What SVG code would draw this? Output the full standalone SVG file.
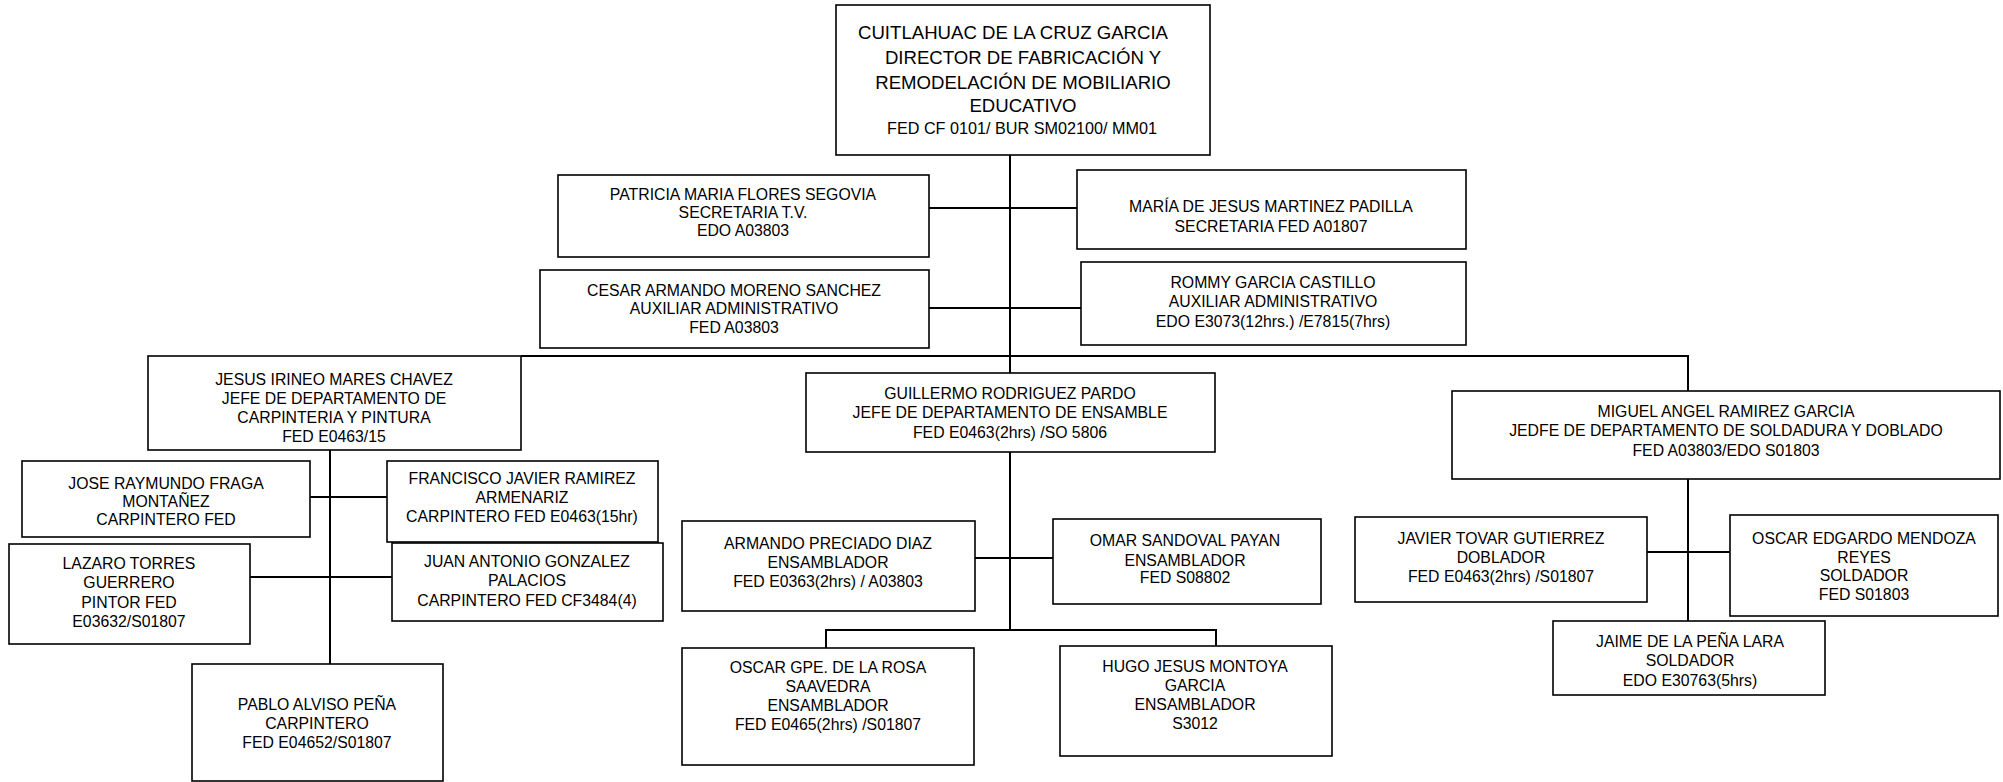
<svg xmlns="http://www.w3.org/2000/svg" width="2003" height="782" viewBox="0 0 2003 782">
<style>
rect{fill:#fff;stroke:#000;stroke-width:1.6}
text{font-family:"Liberation Sans",Arial,sans-serif;font-size:15.8px;fill:#000;text-anchor:middle}
.big{font-size:18.6px}
.mid{font-size:16.2px}
#connectors line,#connectors polyline{stroke:#000;stroke-width:2;fill:none}
</style>
<rect width="2003" height="782" style="fill:#fff;stroke:none"/>
<g id="connectors">
<line x1="1010" y1="155" x2="1010" y2="373"/>
<line x1="929" y1="208" x2="1077" y2="208"/>
<line x1="929" y1="308" x2="1081" y2="308"/>
<polyline points="521,356 1688,356 1688,391"/>
<line x1="330" y1="450" x2="330" y2="664"/>
<line x1="310" y1="497" x2="387" y2="497"/>
<line x1="250" y1="577" x2="392" y2="577"/>
<line x1="1010" y1="452" x2="1010" y2="630"/>
<line x1="975" y1="558" x2="1053" y2="558"/>
<polyline points="826,648 826,630 1216,630 1216,646"/>
<line x1="1688" y1="479" x2="1688" y2="621"/>
<line x1="1647" y1="552" x2="1730" y2="552"/>
</g>
<g id="n-director"><rect x="836" y="5" width="374" height="150"/>
<text class="big" x="1013" y="39">CUITLAHUAC DE LA CRUZ GARCIA</text>
<text class="big" x="1023" y="64">DIRECTOR DE FABRICACIÓN Y</text>
<text class="big" x="1023" y="89">REMODELACIÓN DE MOBILIARIO</text>
<text class="big" x="1023" y="112">EDUCATIVO</text>
<text class="mid" x="1022" y="134">FED CF 0101/ BUR SM02100/ MM01</text></g>
<g id="n-patricia"><rect x="558" y="175" width="371" height="82"/>
<text x="743" y="200">PATRICIA MARIA FLORES SEGOVIA</text>
<text x="743" y="218">SECRETARIA T.V.</text>
<text x="743" y="236">EDO A03803</text></g>
<g id="n-maria"><rect x="1077" y="170" width="389" height="79"/>
<text x="1271" y="212">MARÍA DE JESUS MARTINEZ PADILLA</text>
<text x="1271" y="232">SECRETARIA FED A01807</text></g>
<g id="n-cesar"><rect x="540" y="270" width="389" height="78"/>
<text x="734" y="296">CESAR ARMANDO MORENO SANCHEZ</text>
<text x="734" y="314">AUXILIAR ADMINISTRATIVO</text>
<text x="734" y="333">FED A03803</text></g>
<g id="n-rommy"><rect x="1081" y="262" width="385" height="83"/>
<text x="1273" y="288">ROMMY GARCIA CASTILLO</text>
<text x="1273" y="307">AUXILIAR ADMINISTRATIVO</text>
<text x="1273" y="327">EDO E3073(12hrs.) /E7815(7hrs)</text></g>
<g id="n-jesus"><rect x="148" y="356" width="373" height="94"/>
<text x="334" y="385">JESUS IRINEO MARES CHAVEZ</text>
<text x="334" y="404">JEFE DE DEPARTAMENTO DE</text>
<text x="334" y="423">CARPINTERIA Y PINTURA</text>
<text x="334" y="442">FED E0463/15</text></g>
<g id="n-guillermo"><rect x="806" y="373" width="409" height="79"/>
<text x="1010" y="399">GUILLERMO RODRIGUEZ PARDO</text>
<text x="1010" y="418">JEFE DE DEPARTAMENTO DE ENSAMBLE</text>
<text x="1010" y="438">FED E0463(2hrs) /SO 5806</text></g>
<g id="n-miguel"><rect x="1452" y="391" width="548" height="88"/>
<text x="1726" y="417">MIGUEL ANGEL RAMIREZ GARCIA</text>
<text x="1726" y="436">JEDFE DE DEPARTAMENTO DE SOLDADURA Y DOBLADO</text>
<text x="1726" y="456">FED A03803/EDO S01803</text></g>
<g id="n-jose"><rect x="22" y="461" width="288" height="76"/>
<text x="166" y="489">JOSE RAYMUNDO FRAGA</text>
<text x="166" y="507">MONTAÑEZ</text>
<text x="166" y="525">CARPINTERO FED</text></g>
<g id="n-francisco"><rect x="387" y="461" width="271" height="81"/>
<text x="522" y="484">FRANCISCO JAVIER RAMIREZ</text>
<text x="522" y="503">ARMENARIZ</text>
<text x="522" y="522">CARPINTERO FED E0463(15hr)</text></g>
<g id="n-lazaro"><rect x="9" y="544" width="241" height="100"/>
<text x="129" y="569">LAZARO TORRES</text>
<text x="129" y="588">GUERRERO</text>
<text x="129" y="608">PINTOR FED</text>
<text x="129" y="627">E03632/S01807</text></g>
<g id="n-juan"><rect x="392" y="543" width="271" height="78"/>
<text x="527" y="567">JUAN ANTONIO GONZALEZ</text>
<text x="527" y="586">PALACIOS</text>
<text x="527" y="606">CARPINTERO FED CF3484(4)</text></g>
<g id="n-pablo"><rect x="192" y="664" width="251" height="117"/>
<text x="317" y="710">PABLO ALVISO PEÑA</text>
<text x="317" y="729">CARPINTERO</text>
<text x="317" y="748">FED E04652/S01807</text></g>
<g id="n-armando"><rect x="682" y="521" width="293" height="90"/>
<text x="828" y="549">ARMANDO PRECIADO DIAZ</text>
<text x="828" y="568">ENSAMBLADOR</text>
<text x="828" y="587">FED E0363(2hrs) / A03803</text></g>
<g id="n-omar"><rect x="1053" y="519" width="268" height="85"/>
<text x="1185" y="546">OMAR SANDOVAL PAYAN</text>
<text x="1185" y="566">ENSAMBLADOR</text>
<text x="1185" y="583">FED S08802</text></g>
<g id="n-oscargpe"><rect x="682" y="648" width="292" height="117"/>
<text x="828" y="673">OSCAR GPE. DE LA ROSA</text>
<text x="828" y="692">SAAVEDRA</text>
<text x="828" y="711">ENSAMBLADOR</text>
<text x="828" y="730">FED E0465(2hrs) /S01807</text></g>
<g id="n-hugo"><rect x="1060" y="646" width="272" height="110"/>
<text x="1195" y="672">HUGO JESUS MONTOYA</text>
<text x="1195" y="691">GARCIA</text>
<text x="1195" y="710">ENSAMBLADOR</text>
<text x="1195" y="729">S3012</text></g>
<g id="n-javier"><rect x="1355" y="517" width="292" height="85"/>
<text x="1501" y="544">JAVIER TOVAR GUTIERREZ</text>
<text x="1501" y="563">DOBLADOR</text>
<text x="1501" y="582">FED E0463(2hrs) /S01807</text></g>
<g id="n-oscare"><rect x="1730" y="515" width="268" height="101"/>
<text x="1864" y="544">OSCAR EDGARDO MENDOZA</text>
<text x="1864" y="563">REYES</text>
<text x="1864" y="581">SOLDADOR</text>
<text x="1864" y="600">FED S01803</text></g>
<g id="n-jaime"><rect x="1553" y="621" width="272" height="74"/>
<text x="1690" y="647">JAIME DE LA PEÑA LARA</text>
<text x="1690" y="666">SOLDADOR</text>
<text x="1690" y="686">EDO E30763(5hrs)</text></g>
</svg>
